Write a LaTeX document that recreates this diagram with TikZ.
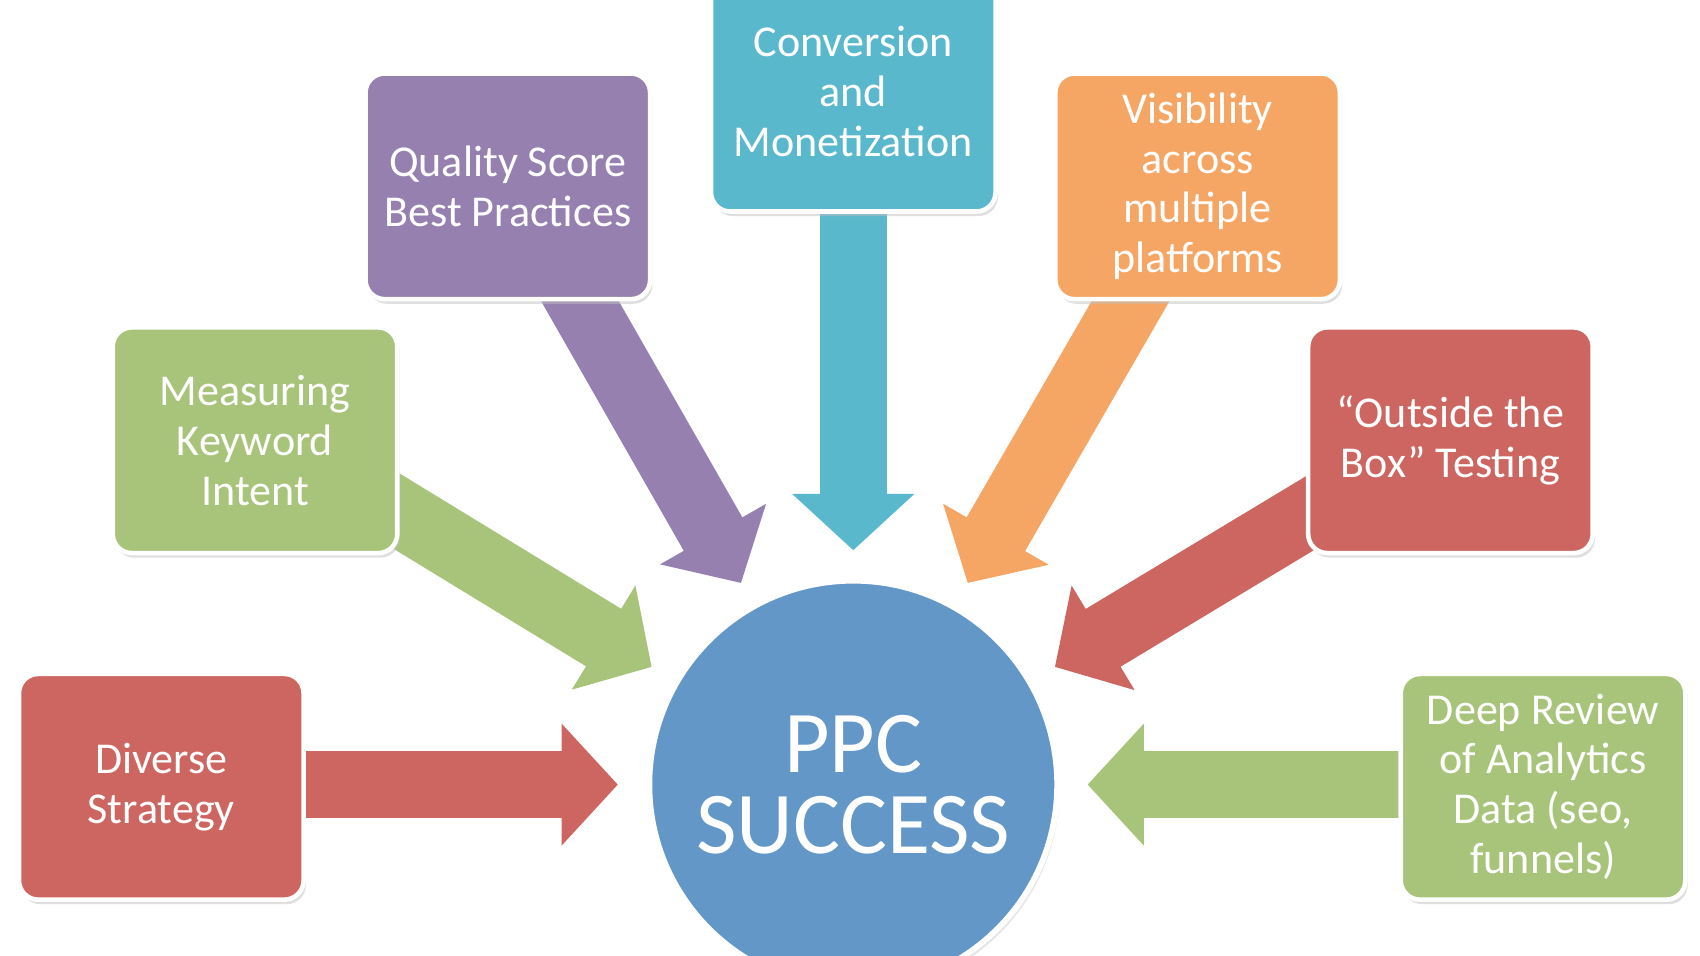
\documentclass[tikz,border=0pt]{standalone}
\usepackage{fontspec}
\setmainfont{Carlito}
\usetikzlibrary{arrows.meta,shadows}
\definecolor{cred}{HTML}{CD6660}
\definecolor{cgreen}{HTML}{A8C47A}
\definecolor{cpurple}{HTML}{9580B0}
\definecolor{cteal}{HTML}{5AB8CC}
\definecolor{corange}{HTML}{F6A664}
\definecolor{cblue}{HTML}{6397C7}
\begin{document}
\begin{tikzpicture}[x=0.01cm,y=-0.01cm,
  box/.style={draw=white,line width=1.2pt,rounded corners=5pt,minimum width=2.61cm,minimum height=2.07cm,
    text=white,align=center,font=\fontsize{11.5}{13}\selectfont,
    drop shadow={shadow xshift=0.6pt,shadow yshift=-1.2pt,fill=black!25}},
  arr/.style={line width=17.6pt,-{Triangle[length=14.7pt,width=31pt]}}]
\useasboundingbox (0,0) rectangle (1560,877);
\clip (0,0) rectangle (1560,877);
\coordinate (tL) at (567,720);
\coordinate (tR) at (998,720);
\coordinate (tG) at (598,612);
\coordinate (tP) at (680,535);
\coordinate (tT) at (783,505);
\coordinate (tO) at (888,535);
\coordinate (tRR) at (968,612);
\coordinate (sG) at (300,430);
\coordinate (sP) at (500,220);
\coordinate (sO) at (1070,220);
\coordinate (sRR) at (1270,430);
\draw[arr,cred] (148,720) -- (tL);
\draw[arr,cgreen] (1416,720) -- (tR);
\draw[arr,cgreen] (sG) -- (tG);
\draw[arr,cpurple] (sP) -- (tP);
\draw[arr,cteal] (783,100) -- (tT);
\draw[arr,corange] (sO) -- (tO);
\draw[arr,cred] (sRR) -- (tRR);
\node[box,fill=cred] (ds) at (148,722) {Diverse\\Strategy};
\node[box,fill=cgreen] (mk) at (234,404) {Measuring\\Keyword\\Intent};
\node[box,fill=cpurple] (qs) at (466,171) {Quality Score\\Best Practices};
\node[box,fill=cteal,minimum height=2.2cm] (cm) at (783,84) {Conversion\\and\\Monetization};
\node[box,fill=corange] (vm) at (1099,171) {Visibility\\across\\multiple\\platforms};
\node[box,fill=cred] (ot) at (1331,404) {“Outside the\\Box” Testing};
\node[box,fill=cgreen] (dr) at (1416,722) {Deep Review\\of Analytics\\Data (seo,\\funnels)};
\node[circle,draw=white,line width=1.5pt,fill=cblue,minimum size=3.74cm,text=white,align=center,
  font=\fontsize{23}{21}\selectfont,drop shadow={shadow xshift=0.6pt,shadow yshift=-1.2pt,fill=black!20}] (ppc) at (783,720) {PPC\\SUCCESS};
\end{tikzpicture}
\end{document}
